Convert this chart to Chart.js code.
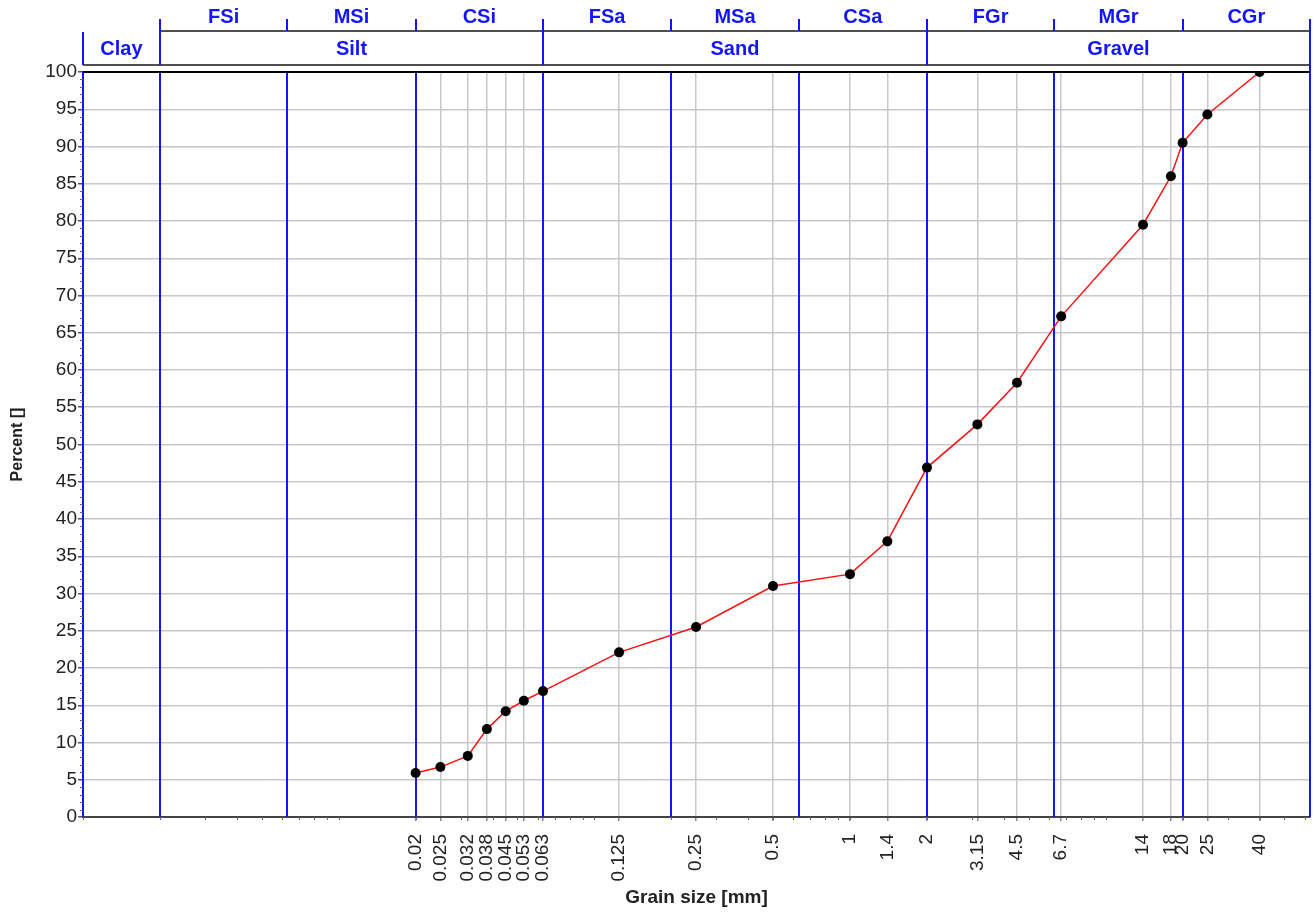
<!DOCTYPE html>
<html>
<head>
<meta charset="utf-8">
<title>Grain size distribution</title>
<script src="https://cdn.jsdelivr.net/npm/chart.js@4/dist/chart.umd.min.js"></script>
<style>
  html, body { margin: 0; padding: 0; background: #ffffff; }
  canvas { display: block; }
</style>
</head>
<body>
<canvas id="sieve" width="1315" height="913"></canvas>
<script>
// Sieve analysis: grain size (mm) against cumulative percent passing
const grainSizes     = [0.02, 0.025, 0.032, 0.038, 0.045, 0.053, 0.063, 0.125, 0.25, 0.5, 1, 1.4, 2, 3.15, 4.5, 6.7, 14, 18, 20, 25, 40];
const percentPassing = [5.9, 6.7, 8.2, 11.8, 14.2, 15.6, 16.9, 22.1, 25.5, 31.0, 32.6, 37.0, 46.9, 52.7, 58.3, 67.2, 79.5, 86.0, 90.5, 94.3, 100];

// Labelled sieve ticks on the grain size axis
const xTickValues = [0.02, 0.025, 0.032, 0.038, 0.045, 0.053, 0.063, 0.125, 0.25, 0.5, 1, 1.4, 2, 3.15, 4.5, 6.7, 14, 18, 20, 25, 40];
const xTickLabels = ['0.02', '0.025', '0.032', '0.038', '0.045', '0.053', '0.063', '0.125', '0.25', '0.5', '1', '1.4', '2', '3.15', '4.5', '6.7', '14', '18', '20', '25', '40'];

// Soil fraction boundaries (mm) and their names
const fractionBounds = [0.001, 0.002, 0.0063, 0.02, 0.063, 0.2, 0.63, 2, 6.3, 20, 63];
const fractionNames  = ['FSi', 'MSi', 'CSi', 'FSa', 'MSa', 'CSa', 'FGr', 'MGr', 'CGr'];
const soilBounds     = [0.001, 0.002, 0.063, 2, 63];
const soilNames      = ['Clay', 'Silt', 'Sand', 'Gravel'];

const X_MIN = 0.001, X_MAX = 63;
const BLUE = '#1414ff';
const TEXT_FONT = '"Liberation Sans", Arial, sans-serif';

const soilBands = {
  id: 'soilBands',
  beforeDatasetsDraw(chart) {
    const { ctx, chartArea: a, scales: { x } } = chart;
    ctx.save();
    ctx.strokeStyle = BLUE;
    ctx.lineWidth = 2;
    fractionBounds.forEach(v => {
      const px = Math.round(x.getPixelForValue(v));
      ctx.beginPath();
      ctx.moveTo(px, a.top);
      ctx.lineTo(px, a.bottom);
      ctx.stroke();
    });
    ctx.restore();
  },
  afterDraw(chart) {
    const { ctx, chartArea: a, scales: { x, y } } = chart;
    ctx.save();

    // minor ticks on the percent axis
    ctx.strokeStyle = '#666';
    ctx.lineWidth = 1;
    for (let v = 0; v <= 100; v++) {
      if (v % 5 === 0) continue;
      const py = Math.round(y.getPixelForValue(v)) + 0.5;
      ctx.beginPath();
      ctx.moveTo(a.left - 3, py);
      ctx.lineTo(a.left, py);
      ctx.stroke();
    }
    // minor ticks on the grain size axis
    for (let k = -3; k <= 1; k++) {
      for (let m = 1; m <= 9; m++) {
        const v = m * Math.pow(10, k);
        if (v < X_MIN || v > X_MAX) continue;
        const px = Math.round(x.getPixelForValue(v)) + 0.5;
        ctx.beginPath();
        ctx.moveTo(px, a.bottom);
        ctx.lineTo(px, a.bottom + 3);
        ctx.stroke();
      }
    }

    // header: fraction row and soil row
    const rowLineY = 31, headBottom = 65;
    ctx.lineWidth = 2;
    ctx.strokeStyle = '#505050';
    ctx.beginPath();
    ctx.moveTo(x.getPixelForValue(0.002), rowLineY);
    ctx.lineTo(a.right, rowLineY);
    ctx.moveTo(a.left, headBottom);
    ctx.lineTo(a.right, headBottom);
    ctx.stroke();
    ctx.strokeStyle = '#000';
    ctx.beginPath();
    ctx.moveTo(a.left, a.top);
    ctx.lineTo(a.right, a.top);
    ctx.stroke();

    ctx.strokeStyle = BLUE;
    ctx.beginPath();
    for (let i = 1; i < fractionBounds.length; i++) {
      const px = Math.round(x.getPixelForValue(fractionBounds[i]));
      ctx.moveTo(px, 19);
      ctx.lineTo(px, rowLineY);
    }
    soilBounds.forEach((v, i) => {
      const px = Math.round(x.getPixelForValue(v));
      ctx.moveTo(px, i === 0 ? 32 : rowLineY);
      ctx.lineTo(px, i === soilBounds.length - 1 ? a.top : headBottom);
    });
    ctx.stroke();

    ctx.fillStyle = BLUE;
    ctx.font = 'bold 20px ' + TEXT_FONT;
    ctx.textAlign = 'center';
    ctx.textBaseline = 'middle';
    fractionNames.forEach((name, i) => {
      const cx = (x.getPixelForValue(fractionBounds[i + 1]) + x.getPixelForValue(fractionBounds[i + 2])) / 2;
      ctx.fillText(name, cx, 17);
    });
    soilNames.forEach((name, i) => {
      const cx = (x.getPixelForValue(soilBounds[i]) + x.getPixelForValue(soilBounds[i + 1])) / 2;
      ctx.fillText(name, cx, 49);
    });
    ctx.restore();
  }
};

new Chart(document.getElementById('sieve'), {
  type: 'line',
  data: {
    datasets: [{
      data: grainSizes.map((g, i) => ({ x: g, y: percentPassing[i] })),
      borderColor: '#ff1010',
      borderWidth: 1.5,
      pointBackgroundColor: '#000',
      pointBorderColor: '#000',
      pointRadius: 5,
      pointBorderWidth: 0,
      tension: 0,
      fill: false
    }]
  },
  options: {
    responsive: false,
    animation: false,
    events: [],
    layout: { padding: { top: 72, right: 2, left: 0, bottom: 0 } },
    plugins: { legend: { display: false }, tooltip: { enabled: false } },
    scales: {
      x: {
        type: 'logarithmic',
        min: X_MIN,
        max: X_MAX,
        afterBuildTicks(scale) { scale.ticks = xTickValues.map(v => ({ value: v })); },
        afterFit(scale) { scale.height = 96; },
        ticks: {
          autoSkip: false,
          minRotation: 90,
          maxRotation: 90,
          padding: 13,
          color: '#222',
          font: { family: TEXT_FONT, size: 19 },
          callback: (v, i) => xTickLabels[i]
        },
        grid: { color: '#c8c8c8', lineWidth: 1.5, tickColor: '#888', tickLength: 4 },
        border: { color: '#444', width: 2 },
        title: {
          display: true,
          text: 'Grain size [mm]',
          color: '#222',
          font: { family: TEXT_FONT, size: 19, weight: 'bold' },
          padding: { top: 0, bottom: 4 }
        }
      },
      y: {
        min: 0,
        max: 100,
        afterFit(scale) { scale.width = 83; },
        ticks: {
          stepSize: 5,
          padding: 1,
          color: '#222',
          font: { family: TEXT_FONT, size: 19 }
        },
        grid: { color: '#c8c8c8', lineWidth: 1.5, tickColor: '#555', tickLength: 5 },
        border: { color: BLUE, width: 2 },
        title: {
          display: true,
          text: 'Percent []',
          color: '#222',
          font: { family: TEXT_FONT, size: 16, weight: 'bold' },
          padding: { top: 8, bottom: 0 }
        }
      }
    }
  },
  plugins: [soilBands]
});
</script>
</body>
</html>
